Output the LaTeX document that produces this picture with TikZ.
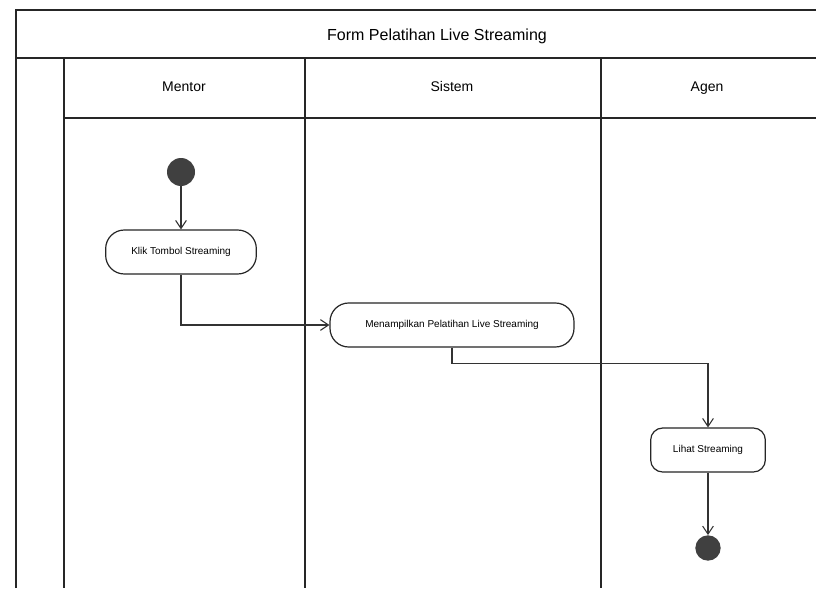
\documentclass[tikz,border=0pt]{standalone}
\usepackage{fontspec}
\setmainfont{Liberation Sans}
\usetikzlibrary{arrows.meta}
\begin{document}
\begin{tikzpicture}[x=0.75pt,y=-0.75pt,
  lane/.style={draw=black!85,line width=1.1pt},
  hdr/.style={font=\fontsize{10.5}{12}\selectfont,text height=8pt,text depth=2pt},
  act/.style={draw=black!85,line width=0.9pt,rounded corners=14pt,minimum height=33pt,inner xsep=3pt,font=\fontsize{7.5}{9}\selectfont,fill=white},
  flow/.style={draw=black!80,line width=0.8pt,-{Straight Barb[length=6pt,width=8pt]}},
  startnode/.style={circle,fill=black!75,minimum size=21pt,inner sep=0pt},
  endnode/.style={circle,fill=black!75,minimum size=19pt,inner sep=0pt}]
\useasboundingbox[fill=white] (0,0) rectangle (816,588);
% frame
\draw[lane] (16,588) -- (16,10) -- (816,10);
\draw[lane] (16,58) -- (816,58);
\draw[lane] (64,58) -- (64,588);
\draw[lane] (305,58) -- (305,588);
\draw[lane] (601,58) -- (601,588);
\draw[lane] (64,118) -- (816,118);
\node[font=\fontsize{12}{14}\selectfont] (title) at (437,36) {Form Pelatihan Live Streaming};
\node[hdr] (mentor) at (184,88) {Mentor};
\node[hdr] (sistem) at (452,88) {Sistem};
\node[hdr] (agen) at (707,88) {Agen};
% nodes
\node[startnode] (start) at (181,172) {};
\node[act,minimum width=113pt] (klik) at (181,252) {Klik Tombol Streaming};
\node[act,minimum width=183pt] (tampil) at (452,325) {Menampilkan Pelatihan Live Streaming};
\node[act,minimum width=86pt,rounded corners=9pt] (lihat) at (708,450) {Lihat Streaming};
\node[endnode] (end) at (708,548) {};
% flows
\draw[flow] (start) -- (klik);
\draw[flow] (klik.south) |- (tampil.west);
\draw[flow] (tampil.south) |- ++(0,16) -| (lihat.north);
\draw[flow] (lihat) -- (end);
\end{tikzpicture}
\end{document}
